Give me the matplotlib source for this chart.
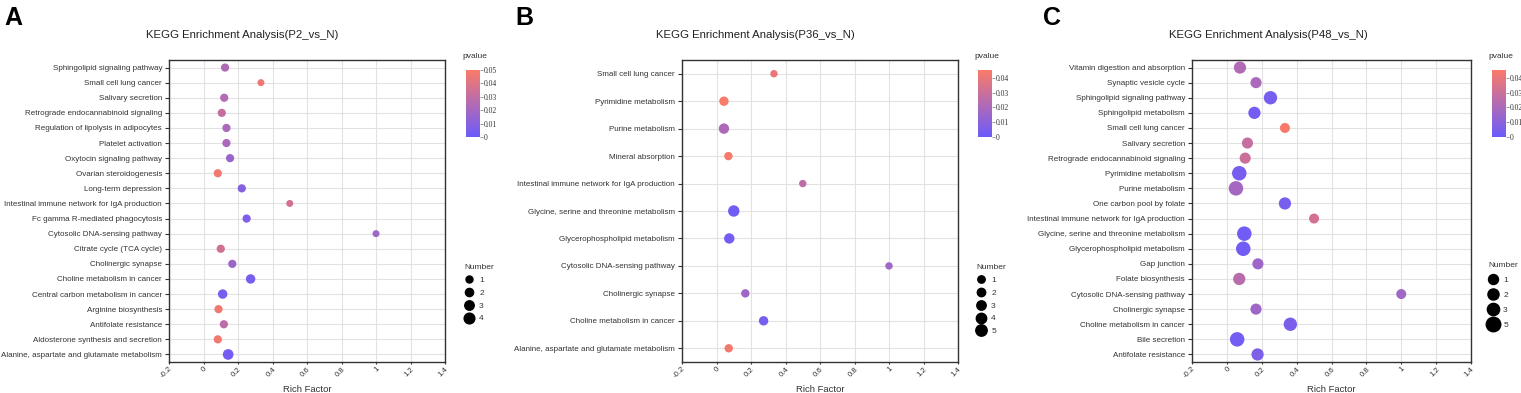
"""KEGG enrichment bubble plots, three panels (P2, P36, P48 vs N)."""

import matplotlib

matplotlib.use("Agg")

import matplotlib.pyplot as plt  # noqa: E402
from matplotlib.colors import LinearSegmentedColormap, Normalize  # noqa: E402
from matplotlib.lines import Line2D  # noqa: E402

plt.rcParams["font.family"] = ["Liberation Sans", "DejaVu Sans"]

# -- data (top to bottom as shown) -------------------------------------------
a_terms = [
    "Sphingolipid signaling pathway", "Small cell lung cancer", "Salivary secretion",
    "Retrograde endocannabinoid signaling", "Regulation of lipolysis in adipocytes",
    "Platelet activation", "Oxytocin signaling pathway", "Ovarian steroidogenesis",
    "Long-term depression", "Intestinal immune network for IgA production",
    "Fc gamma R-mediated phagocytosis", "Cytosolic DNA-sensing pathway",
    "Citrate cycle (TCA cycle)", "Cholinergic synapse", "Choline metabolism in cancer",
    "Central carbon metabolism in cancer", "Arginine biosynthesis",
    "Antifolate resistance", "Aldosterone synthesis and secretion",
    "Alanine, aspartate and glutamate metabolism",
]
a_rich = [0.125, 0.333, 0.12, 0.106, 0.133, 0.133, 0.154, 0.083, 0.222, 0.5,
          0.25, 1.0, 0.1, 0.167, 0.273, 0.111, 0.087, 0.118, 0.083, 0.143]
a_pval = [0.024, 0.046, 0.025, 0.031, 0.022, 0.022, 0.016, 0.047, 0.009, 0.036,
          0.007, 0.018, 0.035, 0.017, 0.005, 0.004, 0.047, 0.028, 0.047, 0.003]
a_num = [2, 1, 2, 2, 2, 2, 2, 2, 2, 1, 2, 1, 2, 2, 3, 3, 2, 2, 2, 4]

b_terms = [
    "Small cell lung cancer", "Pyrimidine metabolism", "Purine metabolism",
    "Mineral absorption", "Intestinal immune network for IgA production",
    "Glycine, serine and threonine metabolism", "Glycerophospholipid metabolism",
    "Cytosolic DNA-sensing pathway", "Cholinergic synapse",
    "Choline metabolism in cancer", "Alanine, aspartate and glutamate metabolism",
]
b_rich = [0.333, 0.043, 0.043, 0.069, 0.5, 0.1, 0.074, 1.0, 0.167, 0.273, 0.071]
b_pval = [0.040, 0.045, 0.021, 0.044, 0.026, 0.002, 0.003, 0.017, 0.016, 0.004, 0.043]
b_num = [1, 3, 4, 2, 1, 5, 4, 1, 2, 3, 2]

c_terms = [
    "Vitamin digestion and absorption", "Synaptic vesicle cycle",
    "Sphingolipid signaling pathway", "Sphingolipid metabolism",
    "Small cell lung cancer", "Salivary secretion",
    "Retrograde endocannabinoid signaling", "Pyrimidine metabolism",
    "Purine metabolism", "One carbon pool by folate",
    "Intestinal immune network for IgA production",
    "Glycine, serine and threonine metabolism", "Glycerophospholipid metabolism",
    "Gap junction", "Folate biosynthesis", "Cytosolic DNA-sensing pathway",
    "Cholinergic synapse", "Choline metabolism in cancer", "Bile secretion",
    "Antifolate resistance",
]
c_rich = [0.075, 0.167, 0.25, 0.158, 0.333, 0.118, 0.105, 0.071, 0.052, 0.333,
          0.5, 0.1, 0.094, 0.178, 0.071, 1.0, 0.167, 0.364, 0.059, 0.176]
c_pval = [0.022, 0.020, 0.004, 0.003, 0.044, 0.028, 0.030, 0.004, 0.018, 0.004,
          0.033, 0.002, 0.002, 0.016, 0.024, 0.017, 0.016, 0.005, 0.003, 0.006]
c_num = [3, 2, 4, 3, 1, 2, 2, 5, 5, 3, 1, 5, 5, 2, 3, 1, 2, 4, 5, 3]

x_ticks = [-0.2, 0, 0.2, 0.4, 0.6, 0.8, 1, 1.2, 1.4]
x_tick_labels = ["-0.2", "0", "0.2", "0.4", "0.6", "0.8", "1", "1.2", "1.4"]

CMAP = LinearSegmentedColormap.from_list("pval", ["#6b5bfb", "#fa7b68"])
DPI = 100
W, H = 1521, 393


def _fx(px):
    return px / W


def _fy(py):
    return 1 - py / H


PANELS = [
    dict(letter="A", title="KEGG Enrichment Analysis(P2_vs_N)", terms=a_terms,
         rich=a_rich, pval=a_pval, num=a_num, vmax=0.05,
         cticks=[0, 0.01, 0.02, 0.03, 0.04, 0.05], legend=[1, 2, 3, 4],
         dia=(7.0, 10.7), ax=(169, 445), letter_x=4, title_x=242,
         cbar_x=466, leg_x=460, leg_y=260, leg_sp=0.6),
    dict(letter="B", title="KEGG Enrichment Analysis(P36_vs_N)", terms=b_terms,
         rich=b_rich, pval=b_pval, num=b_num, vmax=0.0452,
         cticks=[0, 0.01, 0.02, 0.03, 0.04], legend=[1, 2, 3, 4, 5],
         dia=(7.4, 11.4), ax=(682, 958), letter_x=515, title_x=755,
         cbar_x=978, leg_x=972, leg_y=260, leg_sp=0.6),
    dict(letter="C", title="KEGG Enrichment Analysis(P48_vs_N)", terms=c_terms,
         rich=c_rich, pval=c_pval, num=c_num, vmax=0.0452,
         cticks=[0, 0.01, 0.02, 0.03, 0.04], legend=[1, 2, 3, 5],
         dia=(10.0, 14.5), ax=(1192, 1471), letter_x=1043, title_x=1268,
         cbar_x=1492, leg_x=1484, leg_y=258, leg_sp=0.85),
]


def _marker_pts(n, dia, nmax):
    """Marker diameter in points, linear in count between panel min/max."""
    d_px = dia[0] + (n - 1) * (dia[1] - dia[0]) / (nmax - 1)
    return d_px * 72 / DPI


fig = plt.figure(figsize=(W / DPI, H / DPI), dpi=DPI)

for p in PANELS:
    x0, x1 = p["ax"]
    ax = fig.add_axes([_fx(x0), _fy(362), _fx(x1 - x0), _fy(60) - _fy(362)])
    n_terms = len(p["terms"])
    ypos = list(range(n_terms))[::-1]
    nmax = max(p["legend"])
    sizes = [_marker_pts(n, p["dia"], nmax) ** 2 for n in p["num"]]
    norm = Normalize(vmin=0, vmax=p["vmax"])

    ax.scatter(p["rich"], ypos, s=sizes, c=p["pval"], cmap=CMAP, norm=norm,
               edgecolors="none", zorder=3)

    ax.set_xlim(-0.2, 1.4)
    ax.set_ylim(-0.5, n_terms - 0.5)
    ax.set_yticks(ypos)
    ax.set_yticklabels(p["terms"], fontsize=5.8, color="#333333")
    ax.set_xticks(x_ticks)
    ax.set_xticklabels(x_tick_labels, fontsize=5.6, color="#333333",
                       rotation=45, ha="right", va="top", rotation_mode="anchor")
    ax.tick_params(axis="y", length=3, width=0.8, color="#333333", pad=2)
    ax.tick_params(axis="x", length=1.5, width=0.8, color="#333333", pad=1)
    ax.grid(True, color="#e2e2e2", linewidth=0.8)
    ax.set_axisbelow(True)
    for spine in ax.spines.values():
        spine.set_color("#333333")
        spine.set_linewidth(1.0)
    ax.set_xlabel("Rich Factor", fontsize=6.8, color="#333333")
    ax.xaxis.set_label_coords(0.5, -27 / 302, transform=ax.transAxes)
    ax.xaxis.label.set_va("center")

    fig.text(_fx(p["title_x"]), _fy(35), p["title"], ha="center", va="center",
             fontsize=8.2, color="#222222")
    fig.text(_fx(p["letter_x"]), _fy(6), p["letter"], ha="left", va="top",
             fontsize=18, fontweight="bold", color="black")

    # colour bar for p-value
    cx = p["cbar_x"]
    cax = fig.add_axes([_fx(cx), _fy(137), _fx(14), _fy(70) - _fy(137)])
    sm = plt.cm.ScalarMappable(norm=norm, cmap=CMAP)
    cb = fig.colorbar(sm, cax=cax, ticks=p["cticks"])
    cb.outline.set_visible(False)
    cb.ax.set_yticklabels([f"{t:g}" for t in p["cticks"]],
                          fontsize=5.5, family="Liberation Serif", color="#333333")
    cb.ax.tick_params(length=2, width=0.6, color="#888888", pad=1)
    fig.text(_fx(cx - 4), _fy(57), "pvalue", ha="left", va="center",
             fontsize=6, color="#333333")

    # size legend for Number
    handles = [
        Line2D([], [], marker="o", linestyle="", color="black",
               markersize=_marker_pts(n, p["dia"], nmax))
        for n in p["legend"]
    ]
    leg = fig.legend(handles, [str(n) for n in p["legend"]], title="Number",
                     loc="upper left",
                     bbox_to_anchor=(_fx(p["leg_x"]), _fy(p["leg_y"])),
                     frameon=False, fontsize=6, title_fontsize=6,
                     labelspacing=p["leg_sp"], handletextpad=0.6, borderpad=0,
                     handlelength=1.2)
    leg._legend_box.align = "left"
    for t in leg.get_texts():
        t.set_color("#333333")
    leg.get_title().set_color("#333333")

fig.savefig("out.png", dpi=DPI, facecolor="white")
